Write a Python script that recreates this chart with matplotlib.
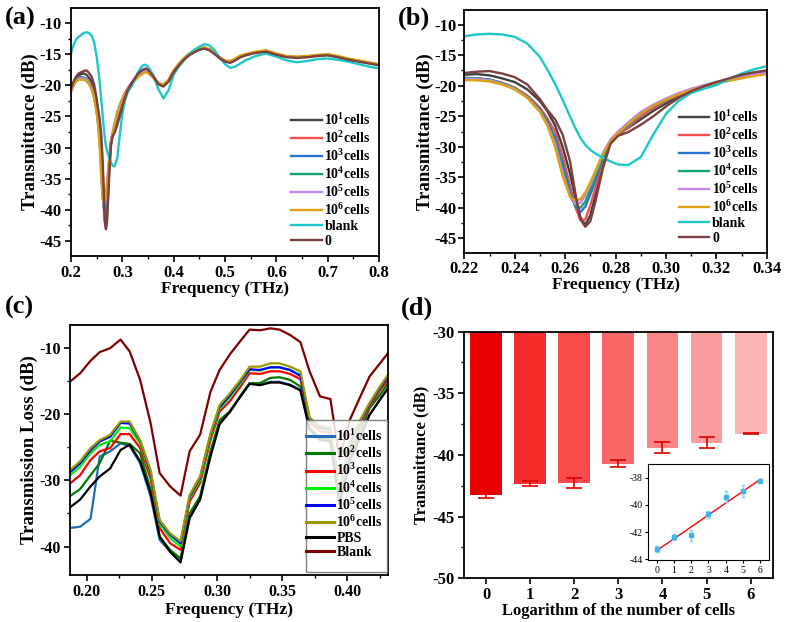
import numpy as np
import matplotlib
matplotlib.use('Agg')
import matplotlib.pyplot as plt
from matplotlib.ticker import MultipleLocator
from matplotlib.patches import Rectangle

plt.rcParams['font.family'] = ['Liberation Serif', 'DejaVu Serif']
plt.rcParams['font.weight'] = 'bold'
plt.rcParams['axes.labelweight'] = 'bold'
plt.rcParams['axes.unicode_minus'] = False
plt.rcParams['mathtext.fontset'] = 'custom'
plt.rcParams['mathtext.rm'] = 'Liberation Serif:bold'
plt.rcParams['mathtext.it'] = 'Liberation Serif:bold'
plt.rcParams['mathtext.bf'] = 'Liberation Serif:bold'
plt.rcParams['axes.linewidth'] = 1.3

# ---- (a)/(b) spectra, same data, (b) is a zoom of the dip ----
freq_ab = [0.200, 0.205, 0.210, 0.215, 0.220, 0.225, 0.230, 0.235, 0.240, 0.245,
           0.250, 0.253, 0.256, 0.259, 0.262, 0.264, 0.266, 0.268, 0.270, 0.272,
           0.275, 0.278, 0.281, 0.285, 0.290, 0.295, 0.300, 0.305, 0.310, 0.315,
           0.320, 0.325, 0.330, 0.335, 0.340, 0.345,
           0.350, 0.360, 0.370, 0.380, 0.390, 0.400, 0.410, 0.420, 0.430, 0.440,
           0.450, 0.460, 0.470, 0.480, 0.490, 0.500, 0.510, 0.520, 0.530, 0.540,
           0.560, 0.580, 0.600, 0.620, 0.640, 0.660, 0.680, 0.700, 0.720, 0.740,
           0.760, 0.780, 0.800]

cells_1 = [-20.6, -19.6, -18.8, -18.4, -18.2, -18.1, -18.3, -18.8, -19.4, -20.6,
           -22.5, -24.2, -26.5, -30.0, -34.5, -38.3, -41.5, -42.8, -41.2, -38.0,
           -32.5, -29.2, -27.9, -26.9, -25.5, -24.1, -22.9, -21.8, -20.8, -20.1,
           -19.5, -19.0, -18.5, -18.0, -17.6, -17.4,
           -17.6, -18.5, -19.7, -20.1, -19.3, -17.8, -16.7, -15.8, -15.1, -14.6,
           -14.2, -14.0, -14.3, -14.9, -15.6, -16.1, -16.3, -15.9, -15.4, -15.1,
           -14.7, -14.5, -15.0, -15.4, -15.5, -15.4, -15.2, -15.1, -15.4, -15.8,
           -16.1, -16.4, -16.7]
cells_2 = [-21.0, -19.9, -19.2, -18.9, -18.8, -18.8, -19.0, -19.5, -20.3, -21.6,
           -23.6, -25.4, -27.5, -31.5, -36.5, -39.8, -42.0, -41.9, -39.6, -36.7,
           -32.0, -29.4, -28.1, -26.8, -25.0, -23.7, -22.5, -21.5, -20.7, -20.1,
           -19.5, -19.0, -18.6, -18.2, -17.9, -17.7,
           -17.8, -18.6, -19.8, -20.1, -19.3, -17.8, -16.7, -15.8, -15.1, -14.6,
           -14.2, -14.0, -14.3, -14.9, -15.6, -16.1, -16.3, -15.9, -15.4, -15.1,
           -14.7, -14.5, -15.0, -15.4, -15.5, -15.4, -15.2, -15.1, -15.4, -15.8,
           -16.1, -16.4, -16.7]
cells_3 = [-21.0, -19.9, -19.2, -18.8, -18.7, -18.8, -19.0, -19.6, -20.4, -21.8,
           -23.9, -25.9, -28.5, -32.8, -37.5, -39.7, -40.7, -39.8, -37.8, -35.5,
           -31.8, -29.2, -27.9, -26.5, -24.7, -23.4, -22.4, -21.4, -20.6, -20.0,
           -19.5, -19.0, -18.6, -18.2, -17.9, -17.7,
           -17.9, -18.7, -19.8, -20.1, -19.3, -17.8, -16.7, -15.8, -15.1, -14.6,
           -14.2, -14.0, -14.3, -14.9, -15.6, -16.1, -16.3, -15.9, -15.4, -15.1,
           -14.7, -14.5, -15.0, -15.4, -15.5, -15.4, -15.2, -15.1, -15.4, -15.8,
           -16.1, -16.4, -16.7]
cells_4 = [-21.0, -19.9, -19.2, -18.9, -18.8, -18.8, -19.0, -19.6, -20.4, -21.8,
           -24.1, -26.2, -29.0, -33.5, -38.0, -39.6, -40.0, -39.0, -37.0, -35.0,
           -31.6, -29.0, -27.8, -26.3, -24.6, -23.3, -22.3, -21.3, -20.6, -20.0,
           -19.5, -19.0, -18.6, -18.2, -17.9, -17.7,
           -17.9, -18.7, -19.8, -20.1, -19.3, -17.8, -16.7, -15.8, -15.1, -14.6,
           -14.2, -14.0, -14.3, -14.9, -15.6, -16.1, -16.3, -15.9, -15.4, -15.1,
           -14.7, -14.5, -15.0, -15.4, -15.5, -15.4, -15.2, -15.1, -15.4, -15.8,
           -16.1, -16.4, -16.7]
cells_5 = [-21.0, -20.0, -19.3, -19.0, -18.9, -18.9, -19.1, -19.7, -20.5, -21.9,
           -24.2, -26.4, -29.5, -34.3, -38.2, -39.3, -39.2, -38.0, -36.2, -34.2,
           -31.0, -28.8, -27.5, -26.0, -24.3, -23.1, -22.1, -21.2, -20.5, -19.9,
           -19.4, -19.0, -18.6, -18.2, -17.9, -17.7,
           -17.9, -18.7, -19.7, -20.0, -19.2, -17.7, -16.6, -15.7, -15.0, -14.5,
           -14.1, -14.0, -14.3, -14.9, -15.6, -16.1, -16.3, -15.9, -15.4, -15.1,
           -14.7, -14.5, -15.0, -15.4, -15.5, -15.4, -15.2, -15.1, -15.4, -15.8,
           -16.1, -16.4, -16.7]
cells_6 = [-21.0, -20.0, -19.4, -19.1, -19.1, -19.1, -19.3, -19.8, -20.6, -22.0,
           -24.3, -26.6, -30.0, -34.8, -38.2, -38.8, -38.6, -37.5, -35.8, -34.0,
           -31.2, -29.1, -27.8, -26.3, -24.6, -23.3, -22.3, -21.4, -20.7, -20.1,
           -19.6, -19.2, -18.8, -18.4, -18.1, -17.9,
           -18.0, -18.7, -19.6, -19.9, -19.1, -17.6, -16.5, -15.6, -14.9, -14.4,
           -14.0, -13.9, -14.2, -14.8, -15.5, -16.0, -16.1, -15.7, -15.2, -15.0,
           -14.6, -14.4, -14.9, -15.3, -15.4, -15.3, -15.1, -15.0, -15.3, -15.7,
           -16.0, -16.3, -16.6]
blank_ab = [-14.9, -13.5, -12.6, -12.2, -11.9, -11.6, -11.5, -11.6, -12.0, -13.1,
            -15.3, -17.4, -19.7, -22.3, -25.1, -26.9, -28.5, -29.7, -30.5, -31.1,
            -31.8, -32.4, -32.9, -33.0, -31.7, -28.0, -24.6, -22.5, -21.2, -20.5,
            -19.9, -18.9, -18.0, -17.3, -16.8, -16.7,
            -17.0, -18.3, -20.6, -22.1, -20.8, -18.3, -17.0, -16.0, -15.0, -14.3,
            -13.8, -13.4, -13.6, -14.4, -15.6, -16.6, -17.2, -17.0, -16.5, -16.0,
            -15.3, -14.9, -15.4, -16.0, -16.3, -16.1, -15.8, -15.7, -15.9, -16.2,
            -16.6, -17.0, -17.3]
zero_ab = [-20.5, -19.4, -18.6, -18.1, -17.9, -17.7, -17.6, -18.0, -18.6, -19.8,
           -22.2, -24.0, -25.5, -28.0, -32.5, -37.5, -41.8, -43.1, -42.2, -39.0,
           -33.5, -29.5, -28.2, -27.6, -26.4, -25.0, -23.4, -22.0, -20.9, -20.1,
           -19.4, -18.8, -18.2, -17.8, -17.5, -17.3,
           -17.5, -18.5, -19.8, -20.2, -19.4, -17.9, -16.8, -15.9, -15.2, -14.7,
           -14.3, -14.1, -14.4, -15.0, -15.7, -16.2, -16.4, -16.0, -15.5, -15.2,
           -14.8, -14.6, -15.1, -15.5, -15.6, -15.5, -15.3, -15.2, -15.5, -15.9,
           -16.2, -16.5, -16.8]

labels_ab = ['10$^1$cells', '10$^2$cells', '10$^3$cells', '10$^4$cells',
             '10$^5$cells', '10$^6$cells', 'blank', '0']
colors_ab = ['#404040', '#F5504C', '#2A72D6', '#15A070', '#C586EE', '#DDA010',
             '#1CC8C8', '#7D4040']
series_ab = [cells_1, cells_2, cells_3, cells_4, cells_5, cells_6, blank_ab, zero_ab]

# ---- (c) transmission loss ----
freq_c = [0.187, 0.195, 0.203, 0.210, 0.218, 0.226, 0.233, 0.241, 0.249, 0.256,
          0.264, 0.272, 0.279, 0.287, 0.295, 0.302, 0.310, 0.318, 0.325, 0.333,
          0.341, 0.348, 0.356, 0.364, 0.371, 0.379, 0.387, 0.394, 0.402, 0.410,
          0.417, 0.425, 0.433]
c_1 = [-37.2, -37.0, -35.8, -26.4, -25.6, -24.4, -24.8, -27.4, -32.4, -39.0,
       -40.7, -42.3, -35.5, -32.9, -25.9, -21.3, -19.6, -17.3, -15.3, -15.5,
       -15.1, -15.1, -15.5, -16.3, -22.2, -23.8, -24.0, -33.5, -27.0, -23.5,
       -20.1, -17.8, -15.6]
c_2 = [-32.4, -31.3, -29.2, -27.4, -24.0, -24.3, -24.5, -25.9, -31.4, -38.5,
       -40.5, -41.8, -35.0, -32.4, -25.6, -20.9, -19.5, -17.2, -15.3, -15.3,
       -14.5, -14.4, -14.8, -15.8, -22.0, -23.6, -23.8, -33.0, -26.0, -22.4,
       -19.1, -17.1, -14.8]
c_3 = [-30.5, -29.2, -26.9, -25.6, -25.1, -23.0, -23.0, -25.1, -29.7, -37.2,
       -39.5, -40.5, -33.2, -30.4, -23.9, -19.6, -18.0, -15.8, -13.8, -13.9,
       -13.5, -13.5, -13.9, -14.7, -21.2, -22.6, -22.8, -32.0, -25.0, -21.6,
       -18.9, -16.4, -14.3]
c_4 = [-29.3, -27.9, -25.9, -24.6, -24.1, -22.0, -22.1, -24.4, -29.0, -36.6,
       -38.7, -40.0, -32.7, -29.9, -23.4, -19.2, -17.4, -15.3, -13.3, -13.4,
       -12.9, -12.9, -13.3, -14.0, -20.8, -22.2, -22.4, -31.5, -24.5, -21.2,
       -18.6, -16.1, -13.8]
c_5 = [-28.8, -27.4, -25.4, -24.1, -23.4, -21.3, -21.4, -24.0, -28.7, -36.2,
       -38.2, -39.5, -32.4, -29.6, -23.1, -18.9, -17.1, -15.0, -13.2, -13.3,
       -12.9, -12.9, -13.3, -14.2, -20.7, -22.0, -22.2, -31.3, -24.3, -21.0,
       -18.5, -16.0, -13.8]
c_6 = [-28.5, -27.1, -25.1, -23.9, -23.1, -21.1, -21.1, -23.9, -28.4, -36.0,
       -38.0, -39.2, -32.2, -29.4, -22.9, -18.6, -16.8, -14.8, -12.8, -12.8,
       -12.3, -12.3, -12.8, -13.5, -20.5, -21.8, -22.0, -31.0, -24.0, -20.8,
       -18.3, -15.8, -13.5]
pbs_c = [-34.1, -32.9, -30.9, -29.4, -28.2, -25.4, -24.6, -27.1, -31.9, -38.5,
         -40.8, -42.4, -35.7, -32.9, -26.4, -21.5, -19.6, -17.3, -15.4, -15.6,
         -15.2, -15.2, -15.6, -16.4, -22.3, -23.9, -24.1, -33.6, -27.0, -23.4,
         -20.1, -17.8, -15.5]
blank_c = [-15.1, -13.8, -11.9, -10.6, -10.0, -8.7, -10.5, -14.8, -21.3, -28.9,
           -30.9, -32.3, -25.6, -23.1, -16.6, -13.3, -10.9, -8.9, -7.2, -7.3,
           -7.0, -7.2, -8.0, -9.1, -13.5, -17.3, -17.7, -26.8, -20.8, -17.3,
           -14.3, -12.3, -10.3]

labels_c = ['10$^1$cells', '10$^2$cells', '10$^3$cells', '10$^4$cells',
            '10$^5$cells', '10$^6$cells', 'PBS', 'Blank']
colors_c = ['#1F6DB8', '#007A00', '#FF0000', '#00F000', '#0000FF', '#9A9A00',
            '#000000', '#800000']
series_c = [c_1, c_2, c_3, c_4, c_5, c_6, pbs_c, blank_c]

# ---- (d) dip depth vs log cell number ----
log_cells = [0, 1, 2, 3, 4, 5, 6]
dip_db = [-43.24, -42.35, -42.24, -40.70, -39.40, -39.00, -38.27]
dip_err = [0.22, 0.20, 0.40, 0.27, 0.42, 0.43, 0.03]
bar_colors = ['#E80000', '#F42C2C', '#F64C4C', '#F86868', '#F98585', '#FB9D9D',
              '#FCB4B4']

fig = plt.figure(figsize=(7.87, 6.22), dpi=100)


def style(ax, tsize=12, pad=2.5):
    ax.tick_params(which='major', direction='out', length=4, width=1.2,
                   labelsize=tsize, top=False, right=False, pad=pad)
    ax.tick_params(which='minor', direction='out', length=2, width=1.0,
                   top=False, right=False)
    for lab in ax.get_xticklabels() + ax.get_yticklabels():
        lab.set_fontweight('bold')


leg_kw = dict(loc='lower right', frameon=False, fontsize=10, handlelength=2.2,
              handletextpad=0.2, labelspacing=0.15, borderaxespad=0.2)

# (a)
ax_a = fig.add_axes([0.0902, 0.5884, 0.3914, 0.3987])
for y, c, l in zip(series_ab, colors_ab, labels_ab):
    ax_a.plot(freq_ab, y, color=c, lw=1.7, label=l)
ax_a.set_xlim(0.2, 0.8)
ax_a.set_ylim(-47.4, -7.6)
ax_a.xaxis.set_major_locator(MultipleLocator(0.1))
ax_a.xaxis.set_minor_locator(MultipleLocator(0.05))
ax_a.yaxis.set_major_locator(MultipleLocator(5))
ax_a.yaxis.set_minor_locator(MultipleLocator(2.5))
ax_a.set_xlabel('Frequency (THz)', fontsize=12.5, labelpad=0)
ax_a.set_ylabel('Transmittance (dB)', fontsize=13.5, labelpad=0.5)
style(ax_a)
ax_a.legend(**leg_kw)

# (b)
ax_b = fig.add_axes([0.590, 0.5932, 0.3843, 0.3907])
for y, c, l in zip(series_ab, colors_ab, labels_ab):
    ax_b.plot(freq_ab, y, color=c, lw=1.7, label=l)
ax_b.set_xlim(0.22, 0.34)
ax_b.set_ylim(-47.4, -7.6)
ax_b.xaxis.set_major_locator(MultipleLocator(0.02))
ax_b.xaxis.set_minor_locator(MultipleLocator(0.01))
ax_b.yaxis.set_major_locator(MultipleLocator(5))
ax_b.yaxis.set_minor_locator(MultipleLocator(2.5))
ax_b.xaxis.set_major_formatter(plt.FormatStrFormatter('%.2f'))
ax_b.set_xlabel('Frequency (THz)', fontsize=12.5, labelpad=0)
ax_b.set_ylabel('Transmittance (dB)', fontsize=13.5, labelpad=0.5)
style(ax_b, pad=1.5)
ax_b.legend(**leg_kw)

# (c)
ax_c = fig.add_axes([0.0886, 0.0756, 0.4041, 0.4019])
for y, c, l in zip(series_c, colors_c, labels_c):
    ax_c.plot(freq_c, y, color=c, lw=1.6, label=l)
ax_c.set_xlim(0.187, 0.431)
ax_c.set_ylim(-44.3, -6.5)
ax_c.xaxis.set_major_locator(MultipleLocator(0.05))
ax_c.xaxis.set_minor_locator(MultipleLocator(0.025))
ax_c.yaxis.set_major_locator(MultipleLocator(10))
ax_c.yaxis.set_minor_locator(MultipleLocator(5))
ax_c.xaxis.set_major_formatter(plt.FormatStrFormatter('%.2f'))
ax_c.set_xlabel('Frequency (THz)', fontsize=12.5, labelpad=1.5)
ax_c.set_ylabel('Transmission Loss (dB)', fontsize=13.5, labelpad=1)
style(ax_c, 11.5)
# legend box of (c) is taller than its entries, so draw the frame separately
ax_c.add_patch(Rectangle((0.743, 0.012), 0.254, 0.608, transform=ax_c.transAxes,
                         facecolor='white', alpha=0.85, edgecolor='none', zorder=4))
ax_c.add_patch(Rectangle((0.743, 0.012), 0.254, 0.608, transform=ax_c.transAxes,
                         facecolor='none', edgecolor='#808080', lw=1.0, zorder=5))
leg = ax_c.legend(loc='upper right', bbox_to_anchor=(0.997, 0.605), frameon=False,
                  fontsize=10, handlelength=2.0, handletextpad=0.2,
                  labelspacing=0.1, borderaxespad=0, borderpad=0.3)
leg.set_zorder(6)
for h in leg.get_lines():
    h.set_linewidth(2.2)

# (d)
base = -30
ax_d = fig.add_axes([0.5896, 0.0703, 0.3922, 0.3965])
heights = [v - base for v in dip_db]
ax_d.bar(log_cells, heights, bottom=base, width=0.72, color=bar_colors)
ax_d.errorbar(log_cells, dip_db, yerr=dip_err, fmt='none', ecolor='#E00000',
              elinewidth=1.2, capsize=5.5, capthick=1.2)
ax_d.set_xlim(-0.5, 6.5)
ax_d.set_ylim(-50, -30)
ax_d.set_xticks(log_cells)
ax_d.yaxis.set_major_locator(MultipleLocator(5))
ax_d.yaxis.set_minor_locator(MultipleLocator(2.5))
ax_d.set_xlabel('Logarithm of the number of cells', fontsize=12, labelpad=0)
ax_d.set_ylabel('Transmittance (dB)', fontsize=12, labelpad=2)
style(ax_d, 12)

# inset with linear fit
ax_in = fig.add_axes([0.8234, 0.0997, 0.1537, 0.1543])
fit = np.polyfit(log_cells, dip_db, 1)
ax_in.plot([log_cells[0], log_cells[-1]], np.polyval(fit, [log_cells[0], log_cells[-1]]),
           color='#FF0000', lw=1.0)
ax_in.errorbar(log_cells, dip_db, yerr=dip_err, fmt='s', ms=2.5, color='#3DB3F0',
               ecolor='#8CD2F5', elinewidth=1.0, capsize=1.5)
ax_in.set_xlim(-0.5, 6.5)
ax_in.set_ylim(-44.05, -37.0)
ax_in.set_xticks(log_cells)
ax_in.set_yticks([-44, -42, -40, -38])
ax_in.tick_params(direction='out', length=2.5, width=0.8, labelsize=7, pad=1.5)
for lab in ax_in.get_xticklabels() + ax_in.get_yticklabels():
    lab.set_fontweight('normal')
for s in ax_in.spines.values():
    s.set_linewidth(0.8)

for txt, x, y in [('(a)', 0.026, 0.970), ('(b)', 0.526, 0.970),
                  ('(c)', 0.025, 0.505), ('(d)', 0.530, 0.505)]:
    fig.text(x, y, txt, fontsize=19, fontweight='bold', ha='center', va='center')

fig.savefig('out.png', dpi=100)
